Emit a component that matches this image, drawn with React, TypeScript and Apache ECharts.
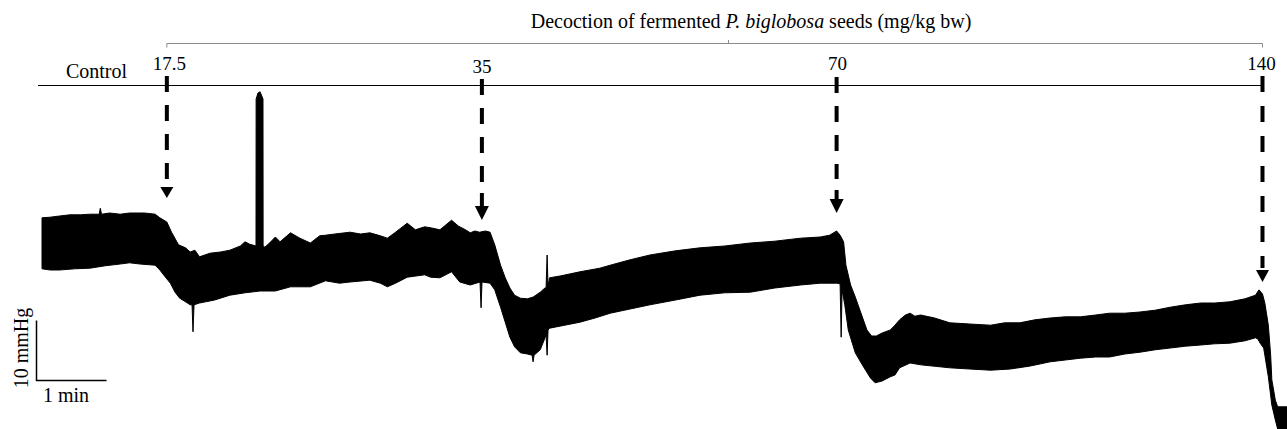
import React, { useEffect, useRef } from "react";
import * as echarts from "echarts";

type Pt = [number, number];

// time in seconds (1 min scale bar), pressure in mmHg (10 mmHg scale bar)
const controlUpper: Pt[] = [[0,115.2],[7,115.3],[15,115.5],[24,115.7],[33,115.7],[41,115.8],[49,115.8],[50,116.8],[51,115.8],[58,116.0],[67,115.8],[75,116.0],[88,116.0],[97,115.8],[101,115.2]];
const dose17Upper: Pt[] = [[107,114.5],[111,112.8],[117,110.7],[123,110.2],[127,109.5],[131,109.8],[135,108.7],[144,109.3],[153,109.5],[161,109.8],[170,110.5],[174,111.2],[178,110.8],[183.4,110.5],[183.5,135.0],[185.1,136.0],[186.9,136.2],[189.4,135.0],[189.5,110.5],[191,110.3],[195,111.0],[200,112.0],[204,111.2],[213,112.7],[221,111.8],[230,111.0],[238,112.2],[243,112.3],[251,112.5],[264,112.8],[273,112.5],[281,112.7],[290,112.2],[296,111.8],[303,112.8],[313,114.3],[320,113.2],[328,113.7],[334,113.5],[341,113.2],[346,114.0],[351,114.8],[357,113.8],[363,113.2],[367,112.7],[371,113.0],[375,112.8]];
const dose35Upper: Pt[] = [[380,113.0],[384,112.8],[388,110.7],[393,107.3],[397,105.2],[401,103.5],[405,102.3],[410,101.8],[416,101.7],[421,102.0],[427,102.8],[431,103.5],[432,103.5],[432.9,109.0],[433.7,103.8],[435,105.2],[444,105.5],[461,106.2],[478,106.8],[487,107.3],[504,108.2],[521,109.0],[543,109.7],[564,110.2],[585,110.5],[607,111.0],[628,111.3],[650,111.8],[667,112.0],[675,112.3]];
const dose70Upper: Pt[] = [[681,113.0],[684,112.3],[687,111.2],[689,107.3],[693,104.0],[697,102.0],[701,99.8],[707,96.5],[711,95.5],[715,95.5],[720,96.0],[727,96.5],[731,97.3],[735,98.2],[740,99.0],[744,99.3],[748,98.8],[753,99.0],[765,98.5],[778,97.7],[795,97.5],[813,97.3],[825,97.7],[838,97.7],[851,98.2],[864,98.5],[877,98.7],[890,98.7],[903,99.0],[915,99.3],[928,99.3],[941,99.5],[954,99.8],[967,100.3],[980,100.7],[993,101.0],[1005,101.0],[1018,101.2],[1031,101.7],[1040,102.3],[1043,103.2]];
const dose140Upper: Pt[] = [[1046,102.5],[1048,101.0],[1051,97.3],[1053,92.3],[1054,88.2],[1057,84.8],[1059,83.7],[1067,83.7]];

const controlLower: Pt[] = [[0,106.7],[7,106.5],[15,106.5],[28,106.7],[41,106.8],[54,107.2],[67,107.5],[75,107.7],[84,107.5],[97,107.3],[101,106.5]];
const dose17Lower: Pt[] = [[105,105.5],[110,104.3],[114,102.8],[118,101.8],[123,101.2],[127,100.7],[128.6,100.7],[129.4,96.2],[130.3,100.7],[135,101.0],[148,101.5],[161,102.3],[174,102.7],[187,103.0],[200,103.0],[213,103.7],[230,103.7],[243,104.7],[255,104.3],[264,104.5],[281,104.8],[290,104.3],[296,103.7],[303,104.3],[313,105.3],[328,105.7],[333,105.3],[341,105.2],[351,106.2],[358,104.5],[367,104.0],[375.4,104.5],[376.3,100.2],[377.1,104.5]];
const dose35Lower: Pt[] = [[384,104.3],[388,103.2],[393,100.3],[397,97.8],[401,95.3],[405,93.7],[410,92.7],[416,92.5],[420,92.3],[420.9,91.2],[421.7,92.3],[427,93.2],[430.3,94.8],[432,95.7],[432.9,92.3],[433.7,96.5],[435,96.8],[448,97.3],[461,97.8],[474,98.5],[487,99.3],[504,100.0],[521,100.7],[543,101.5],[564,102.3],[585,102.7],[607,102.8],[628,103.5],[650,104.0],[667,104.3]];
const dose70Lower: Pt[] = [[681,104.3],[684,104.2],[684.9,95.3],[685.7,103.2],[688,100.7],[691,96.5],[697,92.7],[703,90.7],[710,88.5],[714,87.7],[720,88.0],[727,88.7],[731,89.0],[735,90.2],[744,91.0],[753,90.7],[778,90.2],[795,90.0],[813,89.8],[830,90.0],[847,90.5],[864,91.2],[877,91.5],[890,91.8],[903,92.0],[915,92.0],[928,92.5],[941,92.8],[954,93.2],[967,93.5],[980,93.8],[993,94.0],[1005,94.2],[1018,94.3],[1031,94.7],[1040,95.2],[1042,95.0],[1044,94.3]];
const dose140Lower: Pt[] = [[1047,93.5],[1048,92.3],[1051,88.7],[1054,84.0],[1057,81.5],[1059,80.0],[1067,80.0]];

const doseLabels = ["17.5", "35", "70", "140"];
const doseTimes = [107, 377, 681, 1046];
const scaleTime = 60; // 1 min
const scalePressure = 10; // 10 mmHg

const FONT = "'Liberation Serif', 'Times New Roman', serif";

export default function App() {
  const ref = useRef<HTMLDivElement>(null);
  useEffect(() => {
    const el = ref.current as HTMLDivElement;
    const chart = echarts.init(el, null, { renderer: "svg" });
    const upper = [...controlUpper, ...dose17Upper, ...dose35Upper, ...dose70Upper, ...dose140Upper];
    const lower = [...controlLower, ...dose17Lower, ...dose35Lower, ...dose70Lower, ...dose140Lower];
    chart.setOption({
      animation: false,
      grid: { left: 42, right: 0, top: 0, bottom: 0 },
      xAxis: { type: "value", min: 0, max: 1067, show: false },
      yAxis: { type: "value", min: 80, max: 151.5, show: false },
      series: [
        {
          type: "custom",
          silent: true,
          data: [[0, 100]],
          renderItem: (_params: any, api: any) => {
            const pts = upper
              .map((p) => api.coord(p))
              .concat(lower.slice().reverse().map((p) => api.coord(p)));
            return {
              type: "polygon",
              shape: { points: pts },
              style: { fill: "#000", stroke: "#000", lineWidth: 1 },
            };
          },
        },
      ],
    });

    const toX = (t: number) => (chart.convertToPixel({ gridIndex: 0 } as any, [t, 100]) as number[])[0];
    const toY = (p: number) => (chart.convertToPixel({ gridIndex: 0 } as any, [0, p]) as number[])[1];
    const doseX = doseTimes.map(toX);

    const txt = (x: number, y: number, text: string, size: number, extra: any = {}) => ({
      type: "text",
      x,
      y,
      silent: true,
      ...extra,
      style: {
        text,
        fill: "#000",
        fontFamily: FONT,
        fontSize: size,
        align: "center",
        textAlign: "center",
        verticalAlign: "middle",
        textVerticalAlign: "middle",
      },
    });

    const elements: any[] = [];
    // title with italic species name
    elements.push({
      type: "text",
      x: 751,
      y: 21,
      silent: true,
      style: {
        text: "{n|Decoction of fermented }{i|P. biglobosa }{n|seeds (mg/kg bw)}",
        align: "center",
        textAlign: "center",
        verticalAlign: "middle",
        textVerticalAlign: "middle",
        fontFamily: FONT,
        fontSize: 20,
        fill: "#000",
        rich: {
          n: { fontFamily: FONT, fontSize: 20, fill: "#000" },
          i: { fontFamily: FONT, fontSize: 20, fontStyle: "italic", fill: "#000" },
        },
      },
    });
    // gray bracket
    elements.push({
      type: "polyline",
      silent: true,
      shape: { points: [[doseX[0], 47.5], [doseX[0], 43.5], [doseX[3], 43.5], [doseX[3], 47.5]] },
      style: { stroke: "#8a8a8a", lineWidth: 1, fill: null },
    });
    elements.push({
      type: "line",
      silent: true,
      shape: { x1: 728.5, y1: 40, x2: 728.5, y2: 43.5 },
      style: { stroke: "#8a8a8a", lineWidth: 1 },
    });
    // black baseline
    elements.push({
      type: "line",
      silent: true,
      shape: { x1: 38, y1: 85.5, x2: doseX[3], y2: 85.5 },
      style: { stroke: "#000", lineWidth: 1.2 },
    });
    elements.push(txt(96.5, 71, "Control", 20));

    const labelDx = [2.5, 0, 1, -1];
    const labelY = [63, 66.5, 63, 63];
    const arrows = [
      { top: 76, dashEnd: 179, kind: "tri", headTop: 187, headBot: 198, dash: [16, 13], hw: 6.5 },
      { top: 79, dashEnd: 182, kind: "arrow", shaftTop: 193, headTop: 206, headBot: 220, dash: [16, 13], hw: 7 },
      { top: 77, dashEnd: 179, kind: "arrow", shaftTop: 190, headTop: 199, headBot: 213, dash: [16, 13], hw: 7 },
      { top: 76, dashEnd: 268, kind: "tri", headTop: 270, headBot: 282, dash: [16, 14], hw: 6.5 },
    ];
    doseLabels.forEach((lab, i) => {
      const x = doseX[i];
      elements.push(txt(x + labelDx[i], labelY[i], lab, 19));
      const a: any = arrows[i];
      elements.push({
        type: "line",
        silent: true,
        shape: { x1: x, y1: a.top, x2: x, y2: a.dashEnd },
        style: { stroke: "#000", lineWidth: 4, lineDash: a.dash },
      });
      if (a.kind === "arrow") {
        elements.push({
          type: "line",
          silent: true,
          shape: { x1: x, y1: a.shaftTop, x2: x, y2: a.headTop + 1 },
          style: { stroke: "#000", lineWidth: 4 },
        });
      }
      elements.push({
        type: "polygon",
        silent: true,
        shape: { points: [[x - a.hw, a.headTop], [x + a.hw, a.headTop], [x, a.headBot]] },
        style: { fill: "#000" },
      });
    });

    // scale bar
    const barW = toX(scaleTime) - toX(0);
    const barH = toY(80) - toY(80 + scalePressure);
    const ox = 36.5;
    const oy = 380.5;
    elements.push({
      type: "polyline",
      silent: true,
      shape: { points: [[ox, oy - barH], [ox, oy], [ox + barW, oy]] },
      style: { stroke: "#000", lineWidth: 1.5, fill: null },
    });
    elements.push(txt(66, 395, "1 min", 20));
    elements.push(txt(21, 348, "10 mmHg", 20, { rotation: Math.PI / 2 }));

    chart.setOption({ graphic: { elements } });

    return () => {
      chart.dispose();
    };
  }, []);
  return (
    <div
      ref={ref}
      style={{ position: "absolute", left: 0, top: 0, width: 1287, height: 429, background: "#fff" }}
    />
  );
}
